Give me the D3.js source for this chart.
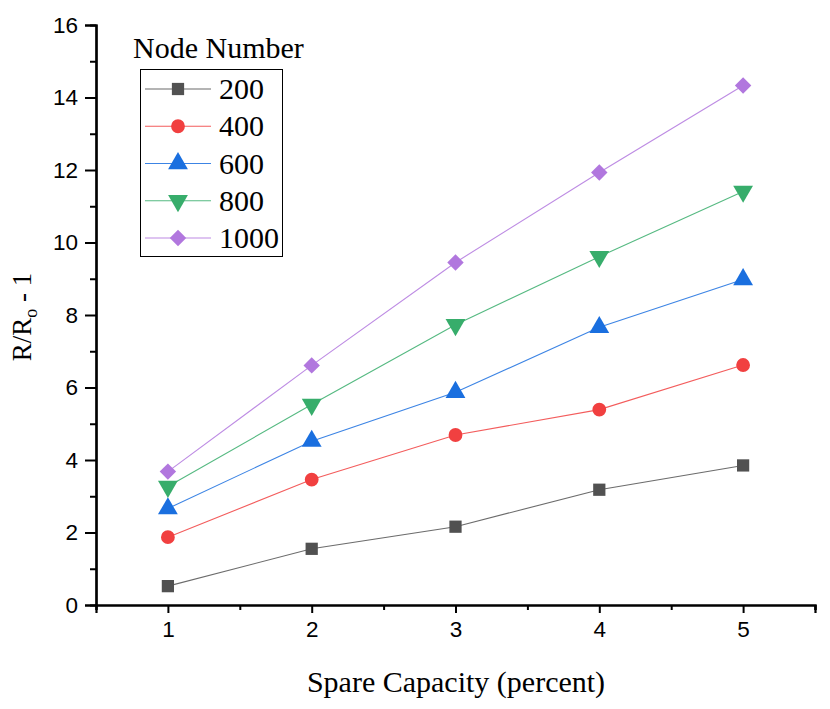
<!DOCTYPE html>
<html><head><meta charset="utf-8">
<script src="https://cdn.jsdelivr.net/npm/d3@7"></script>
<style>body{margin:0;background:#fff}svg{display:block}</style>
</head><body>
<svg id="chart" width="830" height="709"></svg>
<script>
const xValues = [1, 2, 3, 4, 5];
const seriesNames = ["200", "400", "600", "800", "1000"];
const s200  = [0.52, 1.55, 2.16, 3.18, 3.85];
const s400  = [1.87, 3.46, 4.69, 5.39, 6.62];
const s600  = [2.66, 4.52, 5.87, 7.66, 8.98];
const s800  = [3.27, 5.53, 7.73, 9.61, 11.41];
const s1000 = [3.68, 6.61, 9.45, 11.93, 14.33];
const seriesValues = [s200, s400, s600, s800, s1000];
const xTicks = [1, 2, 3, 4, 5];
const yTicks = [0, 2, 4, 6, 8, 10, 12, 14, 16];
const colors = ["#515151", "#F14040", "#1A6FDF", "#37AD6B", "#B177DE"];
const shapes = [d3.symbolSquare, d3.symbolCircle, d3.symbolTriangle, d3.symbolTriangle, d3.symbolSquare];
const sizes = [150, 150, 170, 170, 135];
const rotations = [0, 0, 0, 180, 45];

const svg = d3.select("#chart");
const x = d3.scaleLinear().domain([0.5, 5.5]).range([96, 815]);
const y = d3.scaleLinear().domain([0, 16]).range([605, 25]);

const serif = "'Liberation Serif', 'Times New Roman', serif";
// axes
const xAxis = d3.axisBottom(x).tickValues(xTicks).tickFormat(d3.format("d")).tickSize(8).tickPadding(8);
const xMinor = d3.axisBottom(x).tickValues([0.5,1.5,2.5,3.5,4.5,5.5]).tickFormat("").tickSize(5);
const yAxis = d3.axisLeft(y).tickValues(yTicks).tickFormat(d3.format("d")).tickSize(11).tickPadding(7);
const yMinor = d3.axisLeft(y).tickValues([1,3,5,7,9,11,13,15]).tickFormat("").tickSize(6);

function style(g){
  g.select(".domain").attr("stroke","#000").attr("stroke-width",2.2);
  g.selectAll(".tick line").attr("stroke","#000").attr("stroke-width",2);
  g.selectAll(".tick text").attr("font-family","'Liberation Sans', Arial, sans-serif").attr("font-size",22.5).attr("fill","#000");
}
svg.append("g").attr("transform","translate(0,605)").call(xMinor).call(style);
svg.append("g").attr("transform","translate(0,605)").call(xAxis).call(style);
svg.append("g").attr("transform","translate(96,0)").call(yMinor).call(style);
svg.append("g").attr("transform","translate(96,0)").call(yAxis).call(style);

// axis titles
svg.append("text").attr("x",456).attr("y",692).attr("text-anchor","middle")
  .attr("font-family",serif).attr("font-size",30).attr("fill","#000")
  .text("Spare Capacity (percent)");
const yt = svg.append("text").attr("transform","translate(31,317) rotate(-90)").attr("text-anchor","middle")
  .attr("font-family",serif).attr("font-size",27).attr("fill","#000");
yt.append("tspan").text("R/R");
yt.append("tspan").attr("font-size",18).attr("dy",6).text("o");
yt.append("tspan").attr("dy",-6).text(" - 1");

// series
const line = d3.line().x((d,i)=>x(xValues[i])).y(d=>y(d));
seriesValues.forEach((vals, k) => {
  svg.append("path").datum(vals).attr("d", line).attr("fill","none")
    .attr("stroke", colors[k]).attr("stroke-width",1.1).attr("stroke-opacity",0.85);
});
seriesValues.forEach((vals, k) => {
  svg.append("g").selectAll("path").data(vals).join("path")
    .attr("d", d3.symbol().type(shapes[k]).size(sizes[k]))
    .attr("transform",(d,i)=>`translate(${x(xValues[i])},${y(d)}) rotate(${rotations[k]})`)
    .attr("fill", colors[k]);
});

// legend
const lg = svg.append("g");
lg.append("text").attr("x",133).attr("y",58)
  .attr("font-family",serif).attr("font-size",30).attr("fill","#000")
  .text("Node Number");
lg.append("rect").attr("x",140.5).attr("y",69.5).attr("width",142).attr("height",187)
  .attr("fill","#fff").attr("stroke","#000").attr("stroke-width",1);
const rowY = d3.scaleLinear().domain([0,4]).range([89,238]);
seriesNames.forEach((name,k)=>{
  const yy = rowY(k);
  lg.append("line").attr("x1",145).attr("x2",211).attr("y1",yy).attr("y2",yy)
    .attr("stroke",colors[k]).attr("stroke-width",1.1).attr("stroke-opacity",0.85);
  lg.append("path").attr("d", d3.symbol().type(shapes[k]).size(sizes[k]))
    .attr("transform",`translate(178,${yy}) rotate(${rotations[k]})`).attr("fill",colors[k]);
  lg.append("text").attr("x",219).attr("y",yy+10)
    .attr("font-family",serif).attr("font-size",30).attr("fill","#000")
    .text(name);
});
</script>
</body></html>
